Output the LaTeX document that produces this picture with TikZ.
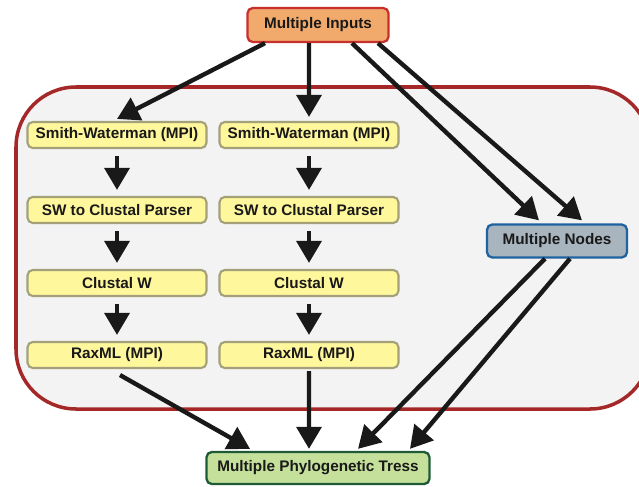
\documentclass[tikz,border=0pt]{standalone}
\usepackage{fontspec}
\setmainfont{Liberation Sans}
\usetikzlibrary{arrows.meta}
\definecolor{inorange}{HTML}{F1AA6B}
\definecolor{inred}{HTML}{C8302E}
\definecolor{swyellow}{HTML}{FFF79C}
\definecolor{swolive}{HTML}{A3A07A}
\definecolor{ndgrey}{HTML}{A8B4BE}
\definecolor{ndblue}{HTML}{1E62A0}
\definecolor{trgreen}{HTML}{C5E09B}
\definecolor{trdark}{HTML}{1E5B35}
\definecolor{boxred}{HTML}{A52828}
\definecolor{boxfill}{HTML}{F3F3F3}

\begin{document}
\begin{tikzpicture}[
  lbl/.style={font=\fontsize{8.7}{10}\selectfont\bfseries,text=black!90,rounded corners=3pt,inner sep=0pt},
  swbox/.style={lbl,fill=swyellow,draw=swolive,line width=1.2pt,minimum width=3.58cm,minimum height=0.52cm},
  arr/.style={line width=2.5pt,draw=black!90,-{Triangle[length=12.5pt,width=14pt]}}]
\clip (0,0) rectangle (12.78,-9.72);
% cluster frame
\draw [boxred,fill=boxfill,line width=2pt,rounded corners=1.2cm] (0.32,-1.74) rectangle (13.0,-8.18);
  \node (in) at (6.36,-0.50) [lbl,fill=inorange,draw=inred,line width=1.3pt,minimum width=2.82cm,minimum height=0.68cm] {Multiple Inputs};
  \node (sw1) at (2.34,-2.70) [swbox] {Smith-Waterman (MPI)};
  \node (pa1) at (2.34,-4.20) [swbox] {SW to Clustal Parser};
  \node (cl1) at (2.34,-5.66) [swbox] {Clustal W};
  \node (rx1) at (2.34,-7.10) [swbox] {RaxML (MPI)};
  \node (sw2) at (6.18,-2.70) [swbox] {Smith-Waterman (MPI)};
  \node (pa2) at (6.18,-4.20) [swbox] {SW to Clustal Parser};
  \node (cl2) at (6.18,-5.66) [swbox] {Clustal W};
  \node (rx2) at (6.18,-7.10) [swbox] {RaxML (MPI)};
  \node (nd) at (11.14,-4.82) [lbl,fill=ndgrey,draw=ndblue,line width=1.3pt,minimum width=2.8cm,minimum height=0.66cm] {Multiple Nodes};
  \node (tr) at (6.36,-9.36) [lbl,fill=trgreen,draw=trdark,line width=1.3pt,minimum width=4.46cm,minimum height=0.64cm] {Multiple Phylogenetic Tress};
% inputs
  \draw [arr] ([xshift=-1.06cm]in.south) to ([yshift=0.04cm]sw1.north);
  \draw [arr] ([xshift=-0.18cm]in.south) to ([yshift=0.08cm]sw2.north);
  \draw [arr] ([xshift=0.68cm]in.south) to ([xshift=-0.36cm,yshift=0.06cm]nd.north);
  \draw [arr] ([xshift=1.2cm]in.south) to ([xshift=0.5cm,yshift=0.06cm]nd.north);
% columns
  \foreach \c in {1,2} {
    \draw [arr] ([yshift=-0.14cm]sw\c.south) to ([yshift=0.12cm]pa\c.north);
    \draw [arr] ([yshift=-0.14cm]pa\c.south) to ([yshift=0.12cm]cl\c.north);
    \draw [arr] ([yshift=-0.14cm]cl\c.south) to ([yshift=0.12cm]rx\c.north);
  }
% trees
  \draw [arr] ([xshift=0.06cm,yshift=-0.12cm]rx1.south) to ([xshift=-1.36cm,yshift=0.04cm]tr.north);
  \draw [arr] ([yshift=-0.04cm]rx2.south) to ([xshift=-0.18cm,yshift=0.04cm]tr.north);
  \draw [arr] ([xshift=-0.24cm]nd.south) to ([xshift=0.8cm,yshift=0.04cm]tr.north);
  \draw [arr] ([xshift=0.26cm]nd.south) to ([xshift=1.84cm,yshift=0.04cm]tr.north);
\end{tikzpicture}
\end{document}
